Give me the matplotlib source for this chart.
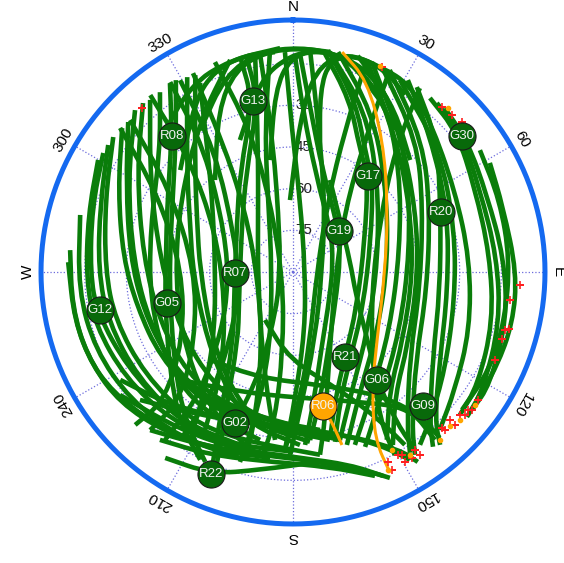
import numpy as np
import matplotlib
matplotlib.use("Agg")
import matplotlib.pyplot as plt
from matplotlib.path import Path
from matplotlib.patches import PathPatch
from matplotlib.transforms import IdentityTransform

plt.rcParams["font.family"] = ["Liberation Sans", "DejaVu Sans"]

# satellite passes: azimuth (deg, clockwise from north) and elevation (deg)
p01_az = [275.6, 261.0, 247.6, 236.1, 222.8, 210.3, 193.2]
p01_el = [9.4, 9.5, 9.9, 12.0, 15.9, 18.7, 22.4]
p02_az = [302.1, 287.9, 269.7, 258.2, 240.2, 221.1, 203.1, 180.0]
p02_el = [9.4, 14.0, 17.0, 18.0, 21.2, 22.7, 23.1, 25.3]
p03_az = [310.1, 295.1, 275.0, 257.4, 237.4, 216.0, 196.9, 167.6]
p03_el = [9.6, 20.5, 28.6, 32.5, 33.2, 33.1, 33.2, 28.1]
p04_az = [318.4, 302.4, 275.7, 249.0, 226.4, 206.1, 173.9]
p04_el = [8.7, 23.5, 35.8, 38.8, 37.3, 35.9, 32.8]
p05_az = [326.9, 318.3, 297.3, 277.6, 256.4, 230.6, 216.8, 206.3]
p05_el = [8.9, 24.5, 39.0, 43.9, 42.6, 32.7, 22.2, 14.6]
p06_az = [331.5, 313.0, 295.4, 269.4, 231.7, 209.2, 195.7, 177.7]
p06_el = [10.2, 37.8, 49.0, 54.0, 50.6, 41.4, 32.8, 27.7]
p07_az = [346.2, 346.8, 331.8, 311.2, 269.0, 240.0, 221.4, 207.7, 202.1]
p07_el = [10.4, 26.8, 49.6, 63.2, 69.1, 65.5, 57.4, 35.1, 11.6]
p08_az = [351.4, 351.4, 337.9, 266.0, 204.6, 198.1, 201.0]
p08_el = [10.3, 42.0, 77.6, 85.0, 76.2, 51.8, 31.8]
p09_az = [306.9, 291.0, 270.6, 254.9, 235.2, 214.8, 197.5, 171.6]
p09_el = [9.1, 17.6, 22.4, 23.7, 25.1, 25.1, 26.6, 23.5]
p10_az = [320.3, 302.8, 275.2, 242.8, 215.3, 192.6, 164.4]
p10_el = [9.5, 28.8, 42.0, 44.3, 40.2, 35.5, 27.2]
p11_az = [333.8, 320.0, 304.5, 278.7, 233.4, 216.7, 211.5]
p11_el = [14.2, 43.5, 55.1, 61.6, 55.0, 37.0, 19.1]
p12_az = [343.5, 328.5, 302.5, 266.1, 234.2, 211.0, 193.6]
p12_el = [10.4, 25.9, 41.8, 47.4, 42.1, 32.1, 24.1]
p13_az = [329.5, 327.4, 298.9, 261.7, 230.4, 213.5, 213.9]
p13_el = [9.9, 37.9, 66.2, 70.0, 62.9, 39.1, 17.2]
p14_az = [313.0, 303.7, 271.2, 235.2, 221.4, 222.1]
p14_el = [9.8, 36.8, 54.7, 47.1, 28.6, 13.3]
p15_az = [323.5, 312.5, 286.4, 258.9, 235.5, 214.0, 191.1]
p15_el = [9.5, 25.1, 36.4, 37.6, 34.1, 30.1, 28.4]
p16_az = [285.0, 265.2, 248.5, 231.9, 214.2, 195.9]
p16_el = [10.7, 12.4, 13.5, 15.5, 17.8, 20.4]
p17_az = [350.1, 344.0, 330.6, 312.4, 273.3, 214.5, 194.5, 186.1]
p17_el = [10.8, 44.4, 64.4, 72.9, 77.4, 69.1, 49.9, 29.2]
p18_az = [326.8, 341.0, 351.5, 1.8, 12.2, 21.9, 35.7]
p18_el = [29.0, 15.0, 10.0, 9.0, 10.1, 15.6, 27.1]
p19_az = [338.1, 350.2, 359.2, 6.9, 15.0, 26.8]
p19_el = [38.8, 19.9, 11.9, 9.6, 11.0, 20.7]
p20_az = [314.8, 331.2, 343.5, 356.7]
p20_el = [22.6, 13.2, 10.4, 9.3]
p21_az = [19.2, 38.2, 60.9, 90.5, 121.7, 140.6, 150.8]
p21_el = [9.2, 29.6, 41.9, 46.8, 43.5, 35.1, 20.8]
p22_az = [23.5, 43.2, 63.4, 98.1, 126.0, 142.9, 147.1]
p22_el = [9.6, 24.9, 37.7, 43.9, 38.0, 21.9, 12.5]
p23_az = [33.8, 47.5, 67.9, 97.0, 121.3, 137.8, 141.3]
p23_el = [9.9, 19.7, 32.6, 36.7, 31.1, 16.7, 9.4]
p24_az = [40.4, 51.2, 66.3, 85.8, 103.8, 121.8, 129.8]
p24_el = [10.1, 12.0, 16.5, 16.4, 13.3, 9.5, 8.5]
p25_az = [61.0, 72.8, 90.3, 103.1, 115.0, 124.8]
p25_el = [9.0, 10.9, 9.4, 8.8, 9.1, 9.4]
p26_az = [56.9, 70.8, 86.8, 102.8, 116.4, 129.2]
p26_el = [9.7, 11.2, 11.8, 11.8, 10.9, 11.5]
p27_az = [7.7, 18.3, 28.8, 38.0, 66.0, 118.7, 148.5, 161.8, 167.6]
p27_el = [9.4, 24.8, 39.9, 46.2, 61.7, 63.8, 54.2, 41.5, 28.1]
p28_az = [1.8, 5.9, 16.9, 48.3, 75.7, 112.2, 151.5, 168.1, 174.2]
p28_el = [11.2, 30.3, 52.8, 67.8, 72.6, 72.9, 62.2, 42.9, 29.2]
p29_az = [357.6, 2.6, 6.2, 13.3, 23.5, 32.0, 42.0, 63.2, 86.1, 108.1, 126.1, 137.1]
p29_el = [64.1, 35.3, 16.9, 8.7, 9.6, 10.6, 16.4, 24.7, 26.2, 23.0, 17.9, 12.4]
p30_az = [15.0, 28.1, 46.4, 78.4, 120.9, 149.0, 160.3]
p30_el = [11.0, 19.8, 36.8, 50.7, 49.4, 36.3, 23.9]
p31_az = [9.5, 24.0, 42.7, 82.0, 127.7, 153.4, 164.4]
p31_el = [9.7, 26.2, 44.9, 59.1, 55.9, 42.5, 27.2]
p32_az = [29.1, 50.3, 75.5, 99.8, 122.8, 137.2, 143.7]
p32_el = [10.9, 21.3, 29.8, 30.9, 24.9, 17.4, 12.8]
p33_az = [21.9, 42.1, 78.1, 110.0, 128.9, 142.1, 145.4, 145.6]
p33_el = [54.3, 64.8, 69.1, 65.9, 56.7, 40.8, 25.4, 12.4]
p34_az = [210.3, 182.0, 158.3, 149.6, 147.1]
p34_el = [70.0, 58.3, 44.3, 28.2, 15.9]
p35_az = [226.3, 203.8, 176.8, 152.7, 139.3, 139.8]
p35_el = [33.8, 42.8, 44.6, 37.4, 25.5, 10.9]
p36_az = [222.1, 208.3, 190.2, 171.9, 158.9, 154.8]
p36_el = [13.3, 19.4, 23.1, 21.0, 12.9, 8.1]
p37_az = [234.6, 215.6, 196.6, 177.8, 163.5, 156.2]
p37_el = [13.6, 20.1, 23.2, 23.1, 17.6, 9.8]
p38_az = [230.1, 213.0, 192.2, 167.0, 153.3, 148.1]
p38_el = [18.2, 28.6, 33.7, 30.9, 20.4, 10.4]
p39_az = [214.5, 202.1, 189.5, 171.9]
p39_el = [8.8, 11.6, 17.8, 21.0]
p40_az = [319.7, 335.2, 344.0, 352.7, 1.8, 9.5]
p40_el = [46.6, 25.8, 14.4, 10.2, 9.4, 9.7]
p41_az = [348.4, 354.4, 359.2, 5.7, 13.6, 21.8, 32.2, 46.3]
p41_el = [48.9, 24.2, 13.0, 9.7, 10.4, 13.7, 21.1, 31.7]
p42_az = [312.1, 330.3, 338.9, 347.5, 355.3]
p42_el = [35.3, 18.8, 12.1, 10.1, 10.6]
p43_az = [12.5, 8.4, 9.9, 15.9, 24.5, 32.3]
p43_el = [45.0, 23.8, 12.6, 8.8, 10.1, 14.6]
p44_az = [272.5, 257.6, 245.2, 232.9, 218.7, 203.7, 187.0]
p44_el = [9.0, 9.4, 10.3, 11.9, 16.3, 20.1, 22.6]
p45_az = [299.9, 285.5, 267.8, 255.0, 237.8, 219.7, 199.8]
p45_el = [9.1, 13.5, 15.5, 16.3, 18.6, 20.8, 23.1]
p46_az = [312.3, 297.5, 276.0, 255.8, 234.9, 214.9, 194.6, 170.3]
p46_el = [9.8, 22.3, 31.0, 34.4, 35.0, 34.7, 35.7, 32.3]
p47_az = [315.7, 299.1, 274.3, 249.7, 228.2, 207.9, 184.8]
p47_el = [8.6, 22.0, 32.3, 35.1, 34.5, 33.8, 33.7]
p48_az = [328.6, 318.4, 297.1, 277.9, 257.2, 230.3, 216.1, 204.8]
p48_el = [9.1, 26.5, 41.1, 45.3, 44.6, 34.8, 24.1, 14.7]
p49_az = [333.6, 316.1, 297.5, 271.2, 230.0, 207.3, 192.9, 174.3]
p49_el = [10.9, 39.1, 51.1, 56.5, 52.0, 42.2, 33.5, 28.6]
p50_az = [347.8, 348.5, 334.1, 312.7, 268.9, 238.6, 219.0, 205.9, 201.3]
p50_el = [10.1, 26.9, 51.2, 65.0, 70.9, 67.2, 58.5, 34.8, 13.6]
p51_az = [304.5, 289.1, 270.6, 254.9, 235.6, 216.1, 197.0]
p51_el = [9.3, 16.5, 19.9, 21.1, 22.4, 22.8, 24.9]
p52_az = [327.1, 324.2, 298.6, 258.7, 230.8, 217.1, 217.3]
p52_el = [8.6, 35.9, 62.2, 66.2, 57.0, 34.5, 14.0]
p53_az = [309.8, 299.7, 271.0, 238.3, 225.0, 225.9]
p53_el = [9.0, 34.1, 50.1, 43.5, 24.9, 10.9]
p54_az = [357.9, 359.6, 5.6, 80.5, 168.3, 179.1, 182.6]
p54_el = [10.8, 38.9, 64.0, 85.6, 68.7, 44.0, 25.9]
p55_az = [4.4, 9.3, 24.0, 86.1, 162.1, 177.1, 180.9]
p55_el = [9.9, 34.6, 61.7, 79.5, 64.3, 40.3, 24.2]
p56_az = [354.0, 348.8, 340.9, 275.4, 196.4, 194.4, 195.6]
p56_el = [10.4, 38.0, 62.6, 82.4, 60.8, 35.0, 19.0]
p57_az = [20.6, 39.5, 63.2, 91.4, 122.4, 140.3, 150.0]
p57_el = [9.3, 28.4, 40.5, 45.0, 41.0, 32.5, 18.1]
p58_az = [25.6, 45.0, 65.7, 97.7, 125.6, 142.1, 146.3]
p58_el = [9.4, 23.9, 35.9, 41.4, 35.6, 20.3, 10.9]
p59_az = [30.9, 45.0, 68.2, 96.6, 120.9, 136.2, 139.6]
p59_el = [9.5, 20.3, 30.0, 33.9, 28.4, 16.2, 8.3]
p60_az = [38.2, 49.5, 65.2, 85.1, 104.0, 121.4, 130.6]
p60_el = [10.3, 12.4, 17.9, 18.9, 15.8, 12.0, 10.9]
p61_az = [42.8, 53.4, 68.4, 86.2, 102.6, 119.8, 127.6]
p61_el = [9.6, 11.6, 14.9, 13.9, 11.1, 8.3, 8.7]
p62_az = [0.5, 3.5, 13.3, 43.5, 76.0, 121.9, 158.3, 170.7, 176.0]
p62_el = [11.9, 31.6, 54.1, 70.1, 75.2, 74.3, 61.8, 43.3, 27.6]
p63_az = [9.0, 20.3, 32.0, 41.0, 67.7, 116.6, 147.1, 160.1, 166.1]
p63_el = [9.2, 24.8, 40.4, 46.2, 59.7, 61.8, 52.3, 40.3, 27.0]
p64_az = [11.6, 26.3, 45.9, 82.8, 124.3, 150.8, 162.7]
p64_el = [9.2, 25.8, 43.5, 55.5, 53.0, 40.6, 24.8]
p65_az = [16.7, 30.2, 49.0, 79.4, 118.5, 145.8, 157.6]
p65_el = [8.8, 19.2, 35.2, 47.2, 46.2, 34.3, 21.9]
p66_az = [218.4, 204.4, 186.9, 169.3, 158.1]
p66_el = [12.9, 17.7, 21.2, 18.6, 10.9]
p67_az = [238.0, 222.8, 203.1, 181.1, 160.8, 149.0, 146.7]
p67_el = [16.7, 24.8, 32.1, 33.9, 27.6, 15.3, 8.2]
p68_az = [223.3, 197.3, 166.6, 144.7, 138.4, 138.5]
p68_el = [46.5, 50.1, 48.2, 35.8, 21.2, 10.3]
p69_az = [19.2, 20.1, 25.9, 92.4, 166.0, 176.9, 182.6]
p69_el = [9.2, 35.6, 61.2, 81.4, 64.8, 43.9, 25.9]
p70_az = [25.6, 28.6, 40.0, 100.8, 154.6, 167.8, 171.6]
p70_el = [9.4, 35.9, 60.9, 74.6, 59.0, 35.5, 23.5]
p71_az = [333.3, 331.7, 322.3, 257.1, 201.7, 194.4, 194.3]
p71_el = [9.9, 36.1, 61.8, 77.1, 59.8, 35.0, 20.2]
p72_az = [339.6, 343.2, 342.3, 231.3, 187.3, 186.9, 189.5]
p72_el = [9.4, 36.6, 62.8, 85.4, 61.7, 36.4, 22.2]
p73_az = [321.1, 317.4, 298.3, 247.6, 215.9, 209.1]
p73_el = [8.2, 35.3, 58.1, 63.6, 46.5, 24.9]
p74_az = [34.6, 39.9, 59.1, 102.8, 138.1, 149.6, 150.9]
p74_el = [9.6, 32.8, 53.5, 60.9, 47.4, 28.2, 14.6]

# highlighted passes (orange)
hl_long_az = [12.6, 21.1, 34.3, 55.6, 90.6, 129.0, 146.2, 154.0, 154.2]
hl_long_el = [8.9, 16.0, 32.5, 48.6, 56.9, 51.1, 38.9, 22.8, 9.7]
hl_r06_az = [167.4, 165.3, 164.2]
hl_r06_el = [40.6, 33.1, 25.3]

# cycle slip / low-elevation flags
slip_az = [153.4, 150.2, 149.5, 145.6, 136.1, 133.4, 129.7, 127.6, 124.7,
           113.5, 105.3, 97.4, 93.3, 153.4, 23.5, 42.1, 45.4, 48.4, 317.4,
           149.2, 147.4, 145.2, 136.3, 133.3, 130.6, 128.3, 107.8, 104.8]
slip_el = [13.6, 14.1, 10.6, 12.4, 11.2, 9.9, 9.5, 8.7, 9.1,
           10.7, 10.9, 11.3, 8.2, 10.4, 9.6, 10.0, 9.6, 8.7, 9.8,
           13.4, 10.6, 9.9, 12.4, 12.4, 10.9, 9.8, 11.0, 9.6]
flag_az = [150.9, 138.8, 131.5, 126.2, 154.4, 43.4, 22.9, 147.4, 134.5]
flag_el = [16.7, 9.7, 9.7, 8.9, 11.0, 8.8, 9.6, 12.0, 11.0]

# current satellite positions
sat_ids = ["G13", "R08", "G30", "G17", "R20", "G19", "R07", "G12",
           "G05", "R21", "G06", "R06", "G09", "G02", "R22"]
sat_az = [346.8, 318.3, 51.2, 38.0, 67.9, 48.3, 269.0, 258.9,
          256.2, 148.5, 142.1, 167.4, 135.9, 201.0, 202.1]
sat_el = [26.8, 24.5, 12.0, 46.2, 32.6, 67.8, 69.1, 19.2,
          43.3, 54.2, 40.8, 40.6, 22.8, 31.8, 11.6]
highlight = "R06"

az_ticks = [0, 30, 60, 90, 120, 150, 180, 210, 240, 270, 300, 330]
az_labels = ["N", "30", "60", "E", "120", "150", "S", "210", "240", "W", "300", "330"]
el_rings = [15, 30, 45, 60, 75]
el_labels = [30, 45, 60, 75]

passes = [
    (p01_az, p01_el), (p02_az, p02_el), (p03_az, p03_el), (p04_az, p04_el),
    (p05_az, p05_el), (p06_az, p06_el), (p07_az, p07_el), (p08_az, p08_el),
    (p09_az, p09_el), (p10_az, p10_el), (p11_az, p11_el), (p12_az, p12_el),
    (p13_az, p13_el), (p14_az, p14_el), (p15_az, p15_el), (p16_az, p16_el),
    (p17_az, p17_el), (p18_az, p18_el), (p19_az, p19_el), (p20_az, p20_el),
    (p21_az, p21_el), (p22_az, p22_el), (p23_az, p23_el), (p24_az, p24_el),
    (p25_az, p25_el), (p26_az, p26_el), (p27_az, p27_el), (p28_az, p28_el),
    (p29_az, p29_el), (p30_az, p30_el), (p31_az, p31_el), (p32_az, p32_el),
    (p33_az, p33_el), (p34_az, p34_el), (p35_az, p35_el), (p36_az, p36_el),
    (p37_az, p37_el), (p38_az, p38_el), (p39_az, p39_el), (p40_az, p40_el),
    (p41_az, p41_el), (p42_az, p42_el), (p43_az, p43_el), (p44_az, p44_el),
    (p45_az, p45_el), (p46_az, p46_el), (p47_az, p47_el), (p48_az, p48_el),
    (p49_az, p49_el), (p50_az, p50_el), (p51_az, p51_el), (p52_az, p52_el),
    (p53_az, p53_el), (p54_az, p54_el), (p55_az, p55_el), (p56_az, p56_el),
    (p57_az, p57_el), (p58_az, p58_el), (p59_az, p59_el), (p60_az, p60_el),
    (p61_az, p61_el), (p62_az, p62_el), (p63_az, p63_el), (p64_az, p64_el),
    (p65_az, p65_el), (p66_az, p66_el), (p67_az, p67_el), (p68_az, p68_el),
    (p69_az, p69_el), (p70_az, p70_el), (p71_az, p71_el), (p72_az, p72_el),
    (p73_az, p73_el), (p74_az, p74_el),
]

GREEN = "#0a7d0a"
DARK_GREEN = "#08690a"
ORANGE = "#ffa500"
GRID = "#6b6bdc"
RMAX = 90.7

fig = plt.figure(figsize=(5.64, 5.63), dpi=100)
ax = fig.add_axes([0.0727, 0.0693, 0.8936, 0.8952], projection="polar")
ax.set_theta_zero_location("N")
ax.set_theta_direction(-1)
ax.set_ylim(0, RMAX)
ax.axis("off")


def draw_track(az, el, color, lw, z):
    # smooth curve through the pass, built in display space
    theta = np.deg2rad(np.asarray(az, float))
    r = 90.0 - np.asarray(el, float)
    pts = ax.transData.transform(np.column_stack([theta, r]))
    verts = [pts[0], (pts[0] + pts[1]) / 2]
    codes = [Path.MOVETO, Path.LINETO]
    for i in range(1, len(pts) - 1):
        verts += [pts[i], (pts[i] + pts[i + 1]) / 2]
        codes += [Path.CURVE3, Path.CURVE3]
    verts.append(pts[-1])
    codes.append(Path.LINETO)
    patch = PathPatch(Path(verts, codes), transform=IdentityTransform(), fill=False,
                      edgecolor=color, lw=lw, capstyle="butt", joinstyle="round",
                      zorder=z, clip_on=False)
    ax.add_artist(patch)


# dotted grid
circ = np.linspace(0, 2 * np.pi, 361)
for el in el_rings:
    ax.plot(circ, np.full_like(circ, 90 - el), ls=":", color=GRID, lw=0.9, zorder=1)
for a in az_ticks:
    ax.plot([np.deg2rad(a)] * 2, [0, RMAX], ls=":", color=GRID, lw=0.9, zorder=1)
ax.plot(circ, np.full_like(circ, RMAX), color="#1469f0", lw=3.6, zorder=8, clip_on=False)

for el in el_labels:
    ax.annotate(str(el), xy=(0, 90 - el), xytext=(1.5, 0), textcoords="offset points",
                ha="left", va="center", fontsize=11, color="#222222", zorder=1.5)

for a, lab in zip(az_ticks, az_labels):
    ax.text(np.deg2rad(a), 95.3, lab, rotation=-a, rotation_mode="anchor",
            ha="center", va="center", fontsize=11, clip_on=False)

# tracks
for az, el in passes:
    draw_track(az, el, GREEN, 3.3, 2)
draw_track(hl_long_az, hl_long_el, ORANGE, 2.2, 3)
draw_track(hl_r06_az, hl_r06_el, ORANGE, 2.2, 3)

ax.plot(np.deg2rad(slip_az), 90 - np.asarray(slip_el), ls="none", marker="+", ms=6,
        mew=1.2, color="#ff2020", zorder=4)
ax.plot(np.deg2rad(flag_az), 90 - np.asarray(flag_el), ls="none", marker="o", ms=3,
        color=ORANGE, zorder=4)

# current positions
for sid, az, el in zip(sat_ids, sat_az, sat_el):
    fc = ORANGE if sid == highlight else DARK_GREEN
    ax.plot(np.deg2rad(az), 90 - el, marker="o", ms=19.5, mfc=fc, mec="#1a1a1a",
            mew=0.8, zorder=6)
    ax.text(np.deg2rad(az), 90 - el, sid, ha="center", va="center", fontsize=9.5,
            color="#f2f2f2", zorder=7)

fig.savefig("out.png", dpi=100)
